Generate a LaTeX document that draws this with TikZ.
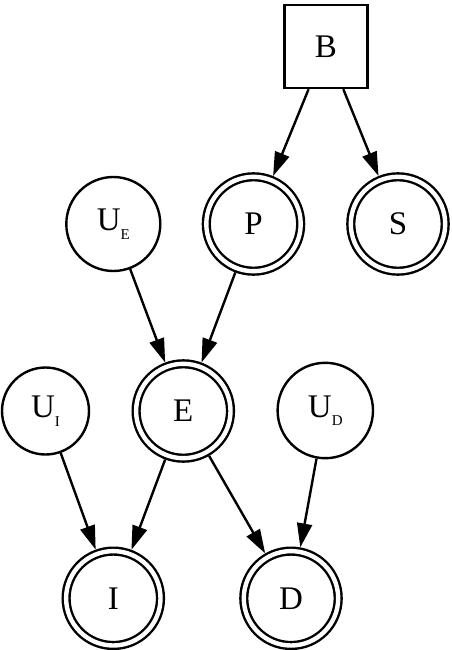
\documentclass[tikz,border=0pt]{standalone}
\usepackage{fontspec}
\setmainfont{Liberation Serif}
\usetikzlibrary{arrows.meta}

\newcommand{\subidx}[1]{\raisebox{-8.5pt}{\fontsize{15}{15}\selectfont #1}}

\tikzset{
   simple/.style={circle,draw,line width=2.4pt,inner sep=0pt,minimum size=#1},
   simple/.default=94pt,
   doble/.style={circle,draw,line width=2.4pt,double,double distance=4.4pt,
      inner sep=0pt,outer sep=4.6pt,minimum size=94.4pt},
   caja/.style={rectangle,draw,line width=2.4pt,inner sep=0pt,minimum size=83pt},
   flecha/.style={-{Triangle[length=24pt,width=15pt]},line width=2.4pt}
}

\begin{document}
\begin{tikzpicture}[x=1pt,y=-1pt,font=\fontsize{33}{36}\selectfont]
   \useasboundingbox (0,0) rectangle (452,650);
   %nodos
   \node[caja] (B) at (326,46.5) {B};
   \node[simple] (UE) at (113.3,224) {U\subidx{E}};
   \node[doble] (P) at (253.5,224) {P};
   \node[doble] (S) at (398,224) {S};
   \node[simple=87pt] (UI) at (45.5,411) {U\subidx{I}};
   \node[doble] (E) at (183.3,411) {E};
   \node[simple=95.4pt] (UD) at (325.3,410.5) {U\subidx{D}};
   \node[doble] (I) at (113.3,598.3) {I};
   \node[doble] (D) at (291,598.3) {D};
   %aristas
   \draw[flecha] (B) -- (P);
   \draw[flecha] (B) -- (S);
   \draw[flecha] (UE) -- (E);
   \draw[flecha] (P) -- (E);
   \draw[flecha] (UI) -- (I);
   \draw[flecha] (E) -- (I);
   \draw[flecha] (E) -- (D);
   \draw[flecha] (UD) -- (D);
\end{tikzpicture}
\end{document}
